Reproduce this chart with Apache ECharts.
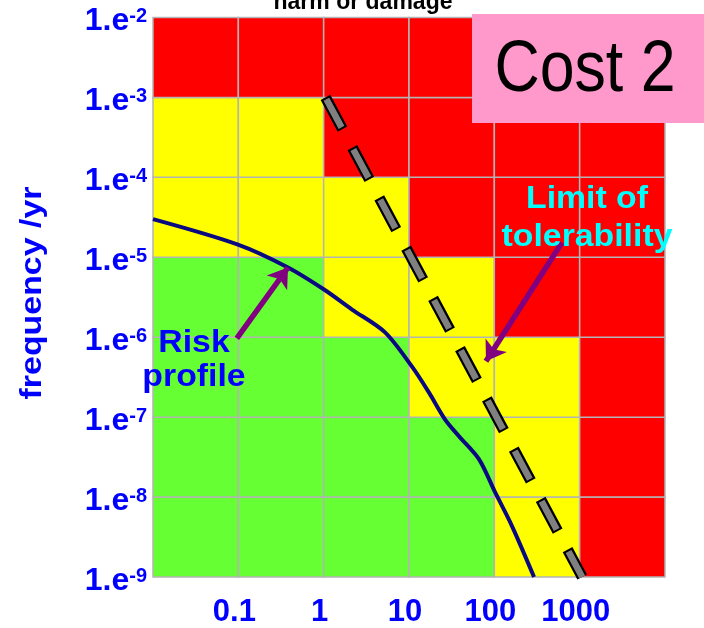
<!DOCTYPE html>
<html>
<head>
<meta charset="utf-8">
<script src="https://cdn.jsdelivr.net/npm/echarts@6/dist/echarts.min.js"></script>
<style>
  html, body { margin: 0; padding: 0; background: #fff; }
  #chart { width: 704px; height: 628px; }
</style>
</head>
<body>
<div id="chart"></div>
<script>
// cell edges of the risk matrix
const xEdges = [0.01, 0.1, 1, 10, 100, 1000, 10000];
const yEdges = [1e-9, 1e-8, 1e-7, 1e-6, 1e-5, 1e-4, 1e-3, 1e-2];
// zone per row (bottom to top) and column (left to right): 0 green, 1 yellow, 2 red
const zones = [
  [0, 0, 0, 0, 1, 2],
  [0, 0, 0, 0, 1, 2],
  [0, 0, 0, 1, 1, 2],
  [0, 0, 1, 1, 2, 2],
  [1, 1, 1, 2, 2, 2],
  [1, 1, 2, 2, 2, 2],
  [2, 2, 2, 2, 2, 2]
];
const xTickLabels = ['', '0.1', '1', '10', '100', '1000', ''];

// risk profile curve
const riskX = [0.01, 0.099, 0.382, 1.01, 2.15, 5.24, 10.8, 17.1, 26.4, 38.5, 66, 102, 161, 292];
const riskY = [3.0e-5, 1.44e-5, 7.45e-6, 3.95e-6, 2.22e-6, 1.15e-6, 4.31e-7, 2.04e-7, 9.4e-8, 5.77e-8, 2.98e-8, 1.15e-8, 4.34e-9, 1e-9];

// limit of tolerability (dashed)
const limitX = [1.05, 1070];
const limitY = [1e-3, 1e-9];

// annotation arrows [from, to]
const riskArrow = [[0.096, 9.7e-7], [0.382, 7.45e-6]];
const limitArrow = [[621, 1.53e-5], [79.8, 5.0e-7]];

const zoneColors = ['#66ff33', '#ffff00', '#ff0000'];
const fontFam = "'Liberation Sans', Arial, sans-serif";
const blue = '#0000ff';

const cells = [];
zones.forEach((row, r) => {
  row.forEach((z, c) => {
    cells.push([xEdges[c], xEdges[c + 1], yEdges[r], yEdges[r + 1], z]);
  });
});

const myChart = echarts.init(document.getElementById('chart'));
const option = {
  animation: false,
  grid: { left: 153, right: 39, top: 17.5, bottom: 50 },
  xAxis: {
    type: 'log', logBase: 10, min: 0.01, max: 10000, splitNumber: 6,
    axisLine: { show: false }, axisTick: { show: false }, splitLine: { show: false },
    axisLabel: {
      margin: 20,
      color: blue, fontSize: 31, fontWeight: 'bold', fontFamily: fontFam,
      padding: [0, 8, 0, 0],
      formatter: (v) => xTickLabels[Math.round(Math.log10(v)) + 2] || ''
    }
  },
  yAxis: {
    type: 'log', logBase: 10, min: 1e-9, max: 1e-2, splitNumber: 7,
    axisLine: { show: false }, axisTick: { show: false }, splitLine: { show: false },
    axisLabel: {
      margin: 6,
      padding: [6, 0, 0, 0],
      formatter: (v) => '{b|1.e}{s|' + Math.round(Math.log10(v)) + '}',
      rich: {
        b: { color: blue, fontSize: 32, fontWeight: 'bold', fontFamily: fontFam, lineHeight: 34, verticalAlign: 'bottom' },
        s: { color: blue, fontSize: 20, fontWeight: 'bold', fontFamily: fontFam, lineHeight: 20, verticalAlign: 'top', padding: [3, 0, 0, 0] }
      }
    }
  },
  series: [
    {
      type: 'custom',
      z: 1,
      encode: { x: [0, 1], y: [2, 3] },
      data: cells,
      renderItem: (params, api) => {
        const p0 = api.coord([api.value(0), api.value(3)]);
        const p1 = api.coord([api.value(1), api.value(2)]);
        return {
          type: 'rect',
          shape: { x: p0[0], y: p0[1], width: p1[0] - p0[0], height: p1[1] - p0[1] },
          style: { fill: zoneColors[api.value(4)], stroke: '#b4b4b4', lineWidth: 1.5 }
        };
      }
    },
    {
      type: 'line', z: 3, showSymbol: false, smooth: 0.3,
      data: riskX.map((x, i) => [x, riskY[i]]),
      lineStyle: { color: '#0a0a80', width: 4 }
    },
    {
      type: 'line', z: 4, showSymbol: false,
      data: limitX.map((x, i) => [x, limitY[i]]),
      lineStyle: { color: '#000', width: 11, type: [36, 21], cap: 'butt' }
    },
    {
      type: 'line', z: 5, showSymbol: false,
      data: limitX.map((x, i) => [x, limitY[i]]),
      lineStyle: { color: '#808080', width: 6.5, type: [32, 25], dashOffset: -2, cap: 'butt' }
    },
    {
      type: 'lines', coordinateSystem: 'cartesian2d', z: 6,
      symbol: ['none', 'arrow'], symbolSize: 19,
      lineStyle: { color: '#800080', width: 5.5, opacity: 1 },
      data: [{ coords: riskArrow }, { coords: limitArrow }]
    }
  ],
  graphic: [
    {
      type: 'text', x: 363, y: 14,
      style: { text: 'harm or damage', fill: '#000', font: 'bold 23px ' + fontFam, align: 'center', verticalAlign: 'bottom' }
    },
    {
      type: 'rect', x: 472, y: 14, z: 10,
      shape: { width: 232, height: 109 },
      style: { fill: '#ff99cc' }
    },
    {
      type: 'text', x: 585, y: 71, z: 11, scaleX: 0.87,
      style: { text: 'Cost 2', fill: '#000', font: '72px ' + fontFam, align: 'center', verticalAlign: 'middle' }
    },
    {
      type: 'text', x: 33, y: 293, rotation: Math.PI / 2, scaleX: 1.13,
      style: { text: 'frequency /yr', fill: blue, font: 'bold 30px ' + fontFam, align: 'center', verticalAlign: 'middle' }
    },
    {
      type: 'text', x: 194, y: 360, z: 12, scaleX: 1.09,
      style: { text: 'Risk\nprofile', fill: blue, font: 'bold 31px ' + fontFam, lineHeight: 34, align: 'center', verticalAlign: 'middle' }
    },
    {
      type: 'text', x: 587, y: 218, z: 12, scaleX: 1.09,
      style: { text: 'Limit of\ntolerability', fill: '#00ffff', font: 'bold 31px ' + fontFam, lineHeight: 38, align: 'center', verticalAlign: 'middle' }
    }
  ]
};
myChart.setOption(option);
</script>
</body>
</html>
